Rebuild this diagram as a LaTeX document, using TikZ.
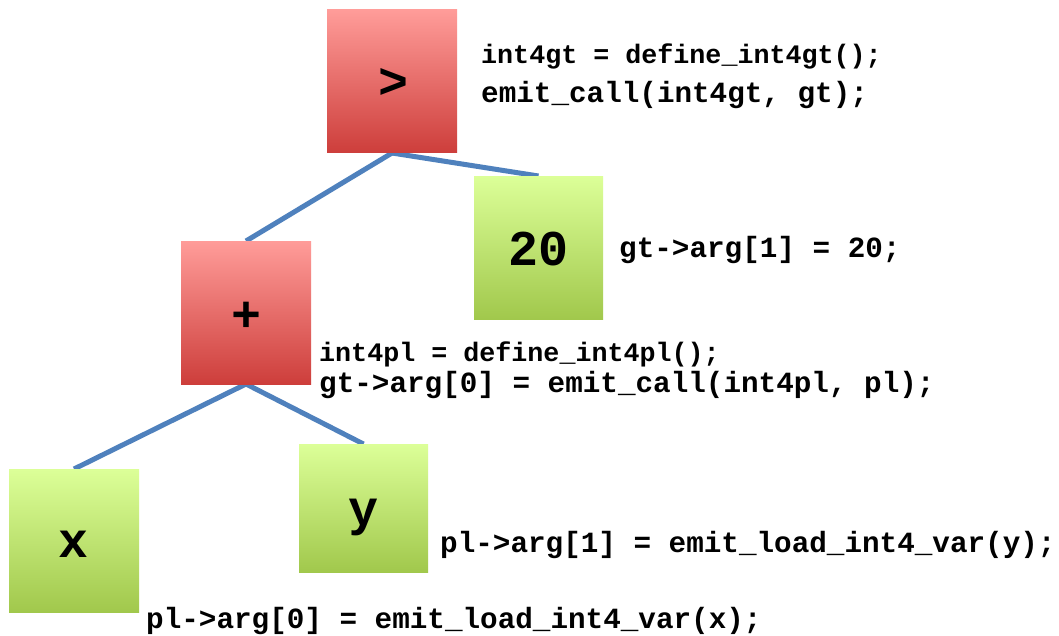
\documentclass[tikz,border=0pt]{standalone}
\usepackage{fontspec}
\newfontfamily\codefont{Liberation Mono}
\definecolor{optop}{RGB}{255,156,153}
\definecolor{opbot}{RGB}{205,62,59}
\definecolor{leaftop}{RGB}{220,255,152}
\definecolor{leafbot}{RGB}{161,200,76}
\definecolor{edgeblue}{RGB}{79,129,189}
\begin{document}
\begin{tikzpicture}[x=1pt,y=-1pt,
  opbox/.style={rectangle, inner sep=0pt, minimum width=130pt, minimum height=143pt,
    top color=optop, bottom color=opbot, draw=none},
  leafbox/.style={rectangle, inner sep=0pt, minimum width=129pt, minimum height=143pt,
    top color=leaftop, bottom color=leafbot, draw=none},
  treeedge/.style={draw=edgeblue, line width=5pt},
  symtext/.style={inner sep=0pt, font=\codefont\bfseries\fontsize{50}{50}\selectfont},
  codeline/.style={anchor=base west, inner sep=0pt,
    font=\codefont\bfseries\fontsize{29.3}{32}\selectfont},
  codedef/.style={anchor=base west, inner sep=0pt,
    font=\codefont\bfseries\fontsize{26.7}{30}\selectfont}]
  \fill[white] (0,0) rectangle (1059,635);
  \useasboundingbox (0,0) rectangle (1059,635);

  % tree edges, drawn first so the boxes sit on top
  \path (392,153) coordinate (gtbase) (246,384) coordinate (plbase);
  \draw[treeedge] (gtbase) -- (246,241) coordinate (pltop);
  \draw[treeedge] (gtbase) -- (538.5,176) coordinate (c20top);
  \draw[treeedge] (plbase) -- (74,469) coordinate (vxtop);
  \draw[treeedge] (plbase) -- (363.5,444) coordinate (vytop);

  % tree nodes
  \node[opbox, anchor=south] (gt) at (gtbase) {};
  \node[leafbox, anchor=north] (c20) at (c20top) {};
  \node[opbox, anchor=north] (pl) at (pltop) {};
  \node[leafbox, anchor=north, minimum width=130pt] (vx) at (vxtop) {};
  \node[leafbox, anchor=north, minimum height=128pt] (vy) at (vytop) {};

  % node symbols
  \node[symtext] (gtsym) at (393,83) {>};
  \node[symtext, anchor=base] (c20sym) at (538,265) {20};
  \node[symtext] (plsym) at (246,317) {+};
  \node[symtext, anchor=base] (vxsym) at (74,557) {x};
  \node[symtext, anchor=base] (vysym) at (363,525) {y};

  % generated code
  \node[codedef] (gtdef) at (481,63) {int4gt = define\_int4gt();};
  \node[codeline] (gtcall) at (481,102) {emit\_call(int4gt, gt);};
  \node[codeline] (gtarg1) at (619,257) {gt->arg[1] = 20;};
  \node[codedef] (pldef) at (319,361) {int4pl = define\_int4pl();};
  \node[codeline] (gtarg0) at (319,392) {gt->arg[0] = emit\_call(int4pl, pl);};
  \node[codeline] (plarg1) at (440,552) {pl->arg[1] = emit\_load\_int4\_var(y);};
  \node[codeline] (plarg0) at (146,628) {pl->arg[0] = emit\_load\_int4\_var(x);};
\end{tikzpicture}
\end{document}
